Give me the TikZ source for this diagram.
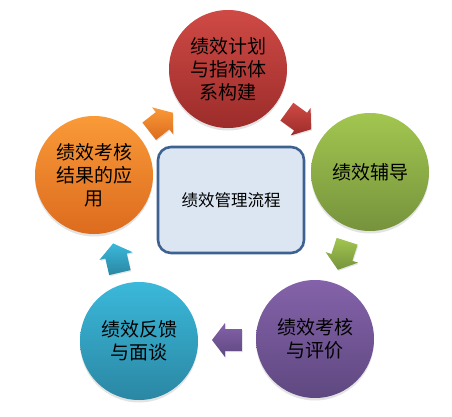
\documentclass[tikz,border=0pt]{standalone}
\usepackage{fontspec}
\setmainfont{Noto Sans CJK SC}
\usetikzlibrary{calc,shadows}
\definecolor{redT}{HTML}{CF4A45}
\definecolor{redB}{HTML}{9C2C2A}
\definecolor{greenT}{HTML}{A2C650}
\definecolor{greenB}{HTML}{76933C}
\definecolor{purpleT}{HTML}{8462AA}
\definecolor{purpleB}{HTML}{5F4880}
\definecolor{cyanT}{HTML}{3BB8DA}
\definecolor{cyanB}{HTML}{2A87A3}
\definecolor{orangeT}{HTML}{F99A38}
\definecolor{orangeB}{HTML}{DD6B1E}
\definecolor{hubfill}{HTML}{DCE6F2}
\definecolor{hubline}{HTML}{3D6190}
\newcommand\flowarrow[5]{%
  \begin{scope}[shift={($(#1)!0.5!(#2)$)}, rotate=#3]
    \shade[top color=#4, bottom color=#5,
      drop shadow={shadow xshift=0.8pt, shadow yshift=-1.2pt, opacity=0.2}]
      (-15,-11) -- (2,-11) -- (2,-17) -- (15,0) -- (2,17) -- (2,11) -- (-15,11) -- cycle;
  \end{scope}}
\begin{document}
\begin{tikzpicture}[x=1pt,y=1pt,
  stage/.style={circle, minimum size=118pt, inner sep=0pt, align=center,
    font=\fontsize{19}{23}\selectfont, text=black,
    drop shadow={shadow xshift=0pt, shadow yshift=-2.5pt, opacity=0.22}},
  hub/.style={rectangle, rounded corners=13pt, draw=hubline, line width=2.6pt,
    fill=hubfill, minimum width=146pt, minimum height=106pt,
    font=\fontsize{16.5}{20}\selectfont}]
\useasboundingbox (0,0) rectangle (452,416);
\node[stage, top color=redT, bottom color=redB] (plan) at (228,347) {绩效计划\\与指标体\\系构建};
\node[stage, top color=greenT, bottom color=greenB] (coach) at (370,244) {绩效辅导};
\node[stage, top color=purpleT, bottom color=purpleB] (assess) at (315,77) {绩效考核\\与评价};
\node[stage, top color=cyanT, bottom color=cyanB] (feedback) at (139,75) {绩效反馈\\与面谈};
\node[stage, top color=orangeT, bottom color=orangeB] (apply) at (94,241) {绩效考核\\结果的应\\用};
\node[hub] (hubbox) at (231,216) {绩效管理流程};
\flowarrow{apply}{plan}{38}{orangeT}{orangeB}
\flowarrow{plan}{coach}{-36}{redT}{redB}
\flowarrow{coach}{assess}{-108}{greenT}{greenB}
\flowarrow{assess}{feedback}{180}{purpleT}{purpleB}
\flowarrow{feedback}{apply}{103}{cyanT}{cyanB}
\end{tikzpicture}
\end{document}
